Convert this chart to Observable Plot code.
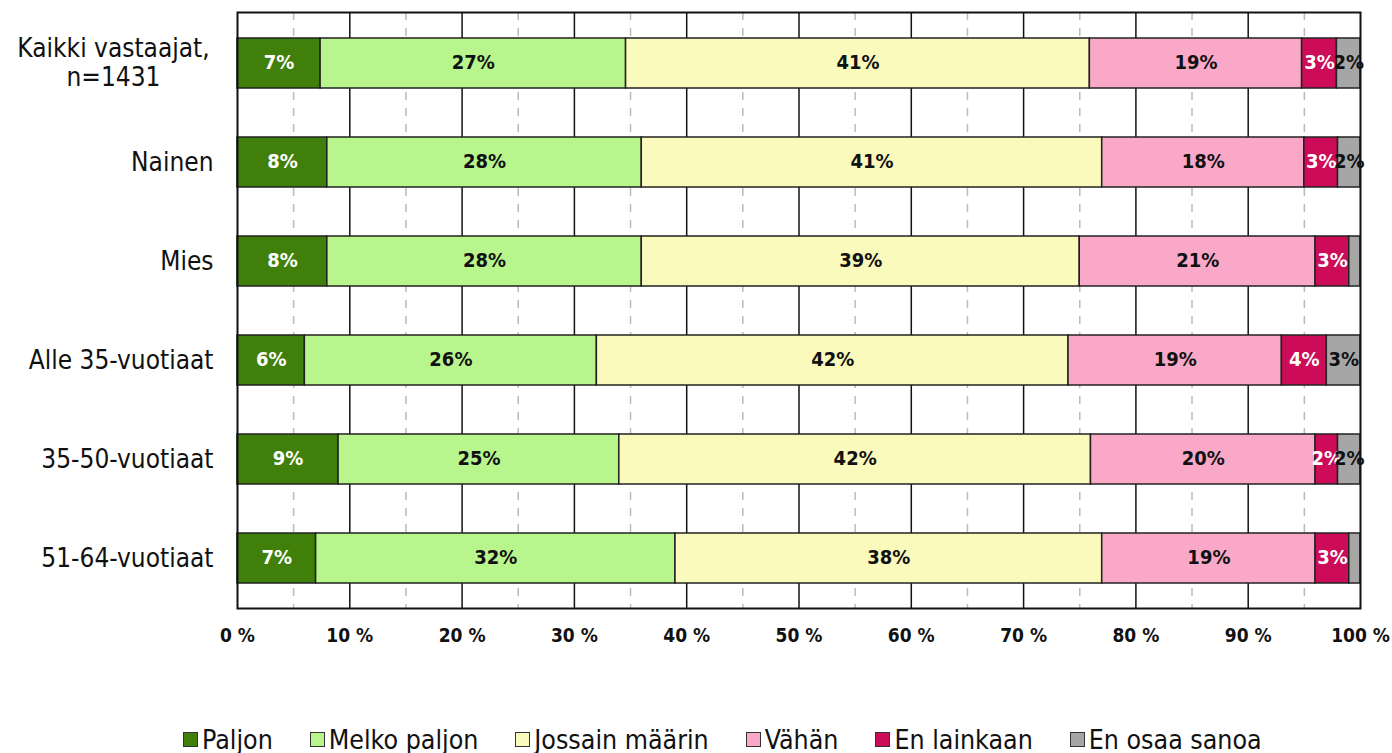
<!DOCTYPE html>
<html>
<head>
<meta charset="utf-8">
<script src="https://cdn.jsdelivr.net/npm/d3@7"></script>
<script src="https://cdn.jsdelivr.net/npm/@observablehq/plot@0.6"></script>
<style>
  body { margin: 0; background: #fff; font-family: "DejaVu Sans Condensed", "DejaVu Sans", sans-serif; }
  #legend { position: absolute; left: 183px; top: 724px; display: flex; font-size: 26.5px; color: #111; height: 30px; align-items: center; white-space: nowrap; }
  #legend span.item { display: inline-flex; align-items: center; margin-right: 37px; }
  #legend span.sw { width: 15px; height: 15px; border: 1.5px solid #333; display: inline-block; margin-right: 4px; box-sizing: border-box; }
</style>
</head>
<body>
<div id="chart"></div>
<div id="legend"></div>
<script>
const categories = ["Kaikki vastaajat,\nn=1431", "Nainen", "Mies", "Alle 35-vuotiaat", "35-50-vuotiaat", "51-64-vuotiaat"];
const series = ["Paljon", "Melko paljon", "Jossain määrin", "Vähän", "En lainkaan", "En osaa sanoa"];
const colors = ["#3f7f0a", "#b8f58c", "#fafabc", "#f9a8c8", "#cc0c58", "#a6a6a6"];
const labelColors = ["#fff", "#111", "#111", "#111", "#fff", "#111"];
// values per category (rows) per series (columns), percent
const values = [
  [7.4, 27.2, 41.3, 18.9, 3.1, 2.1],
  [8.0, 28.0, 41.0, 18.0, 3.0, 2.0],
  [8.0, 28.0, 39.0, 21.0, 3.0, 1.0],
  [6.0, 26.0, 42.0, 19.0, 4.0, 3.0],
  [9.0, 25.0, 42.0, 20.0, 2.0, 2.0],
  [7.0, 32.0, 38.0, 19.0, 3.0, 1.0]
];
const xTicks = [0, 10, 20, 30, 40, 50, 60, 70, 80, 90, 100];
const minorTicks = [5, 15, 25, 35, 45, 55, 65, 75, 85, 95];

const data = [];
categories.forEach((c, i) => series.forEach((s, j) => data.push({cat: c, series: s, si: j, value: values[i][j]})));

const chart = Plot.plot({
  width: 1392,
  height: 722,
  marginLeft: 237,
  marginRight: 32,
  marginTop: 12,
  marginBottom: 114,
  style: { fontFamily: "DejaVu Sans Condensed, DejaVu Sans, sans-serif", background: "#fff" },
  x: { domain: [0, 100], label: null },
  y: { domain: categories, padding: 0.5, paddingOuter: 0.25, label: null },
  color: { domain: series, range: colors },
  marks: [
    Plot.ruleX(minorTicks, { stroke: "#bbb", strokeWidth: 1.5, strokeDasharray: "8,8" }),
    Plot.ruleX(xTicks.slice(1, -1), { stroke: "#111", strokeWidth: 1.5 }),
    Plot.barX(data, Plot.stackX({ x: "value", y: "cat", fill: "series", order: series, stroke: "#222", strokeWidth: 1.5 })),
    Plot.text(data.filter(d => d.value >= 1.5), Plot.stackX({
      x: "value", y: "cat", z: "series", order: series,
      text: d => Math.round(d.value) + "%",
      fill: d => labelColors[d.si],
      fontSize: 20, fontWeight: "bold", dy: -1
    })),
    Plot.axisX({ ticks: xTicks, tickFormat: d => d + " %", tickSize: 0, tickPadding: 20, fontSize: 19, fontWeight: "bold", fill: "#111", label: null }),
    Plot.axisY({ tickSize: 0, tickPadding: 24, fontSize: 26, fill: "#111", label: null,
      tickFormat: (d, i) => i === 0 ? "" : d }),
    Plot.text([categories[0]], { y: d => d, frameAnchor: "left", dx: -124, dy: -1, textAnchor: "middle", lineHeight: 1.12, fontSize: 26, fill: "#111" }),
    Plot.frame({ stroke: "#111", strokeWidth: 2 })
  ]
});
document.getElementById("chart").appendChild(chart);

const legend = document.getElementById("legend");
series.forEach((s, j) => {
  const item = document.createElement("span");
  item.className = "item";
  const sw = document.createElement("span");
  sw.className = "sw";
  sw.style.background = colors[j];
  item.appendChild(sw);
  item.appendChild(document.createTextNode(s));
  legend.appendChild(item);
});
</script>
</body>
</html>
